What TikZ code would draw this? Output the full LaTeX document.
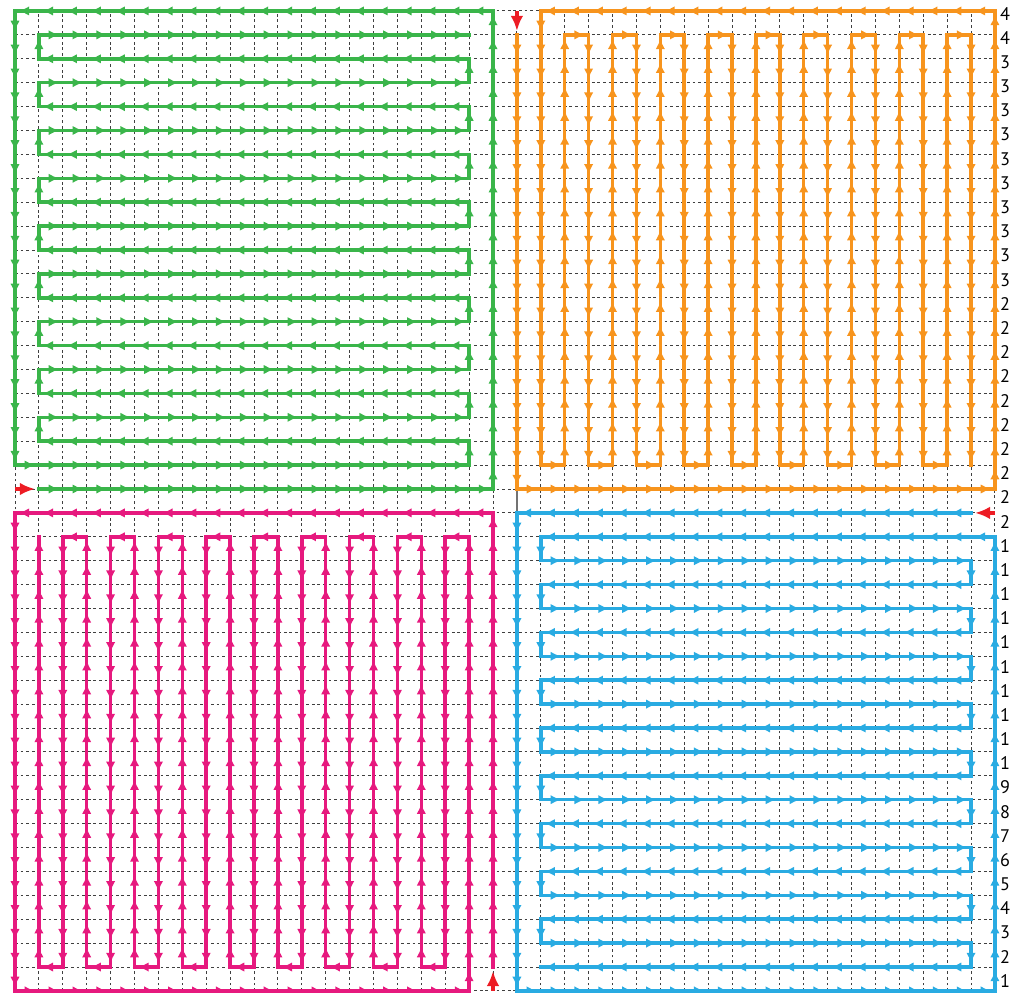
\documentclass[tikz,border=0pt]{standalone}
\usepackage{fontspec}
\setsansfont{PT Sans}
\usetikzlibrary{arrows.meta,decorations.markings}

\definecolor{pathgreen}{HTML}{3AB54A}
\definecolor{pathorange}{HTML}{F7941D}
\definecolor{pathpink}{HTML}{E6197E}
\definecolor{pathblue}{HTML}{29ABE2}
\definecolor{pathred}{HTML}{ED1C24}

% draws a straight run of unit steps from (i1,j1) to (i2,j2)
\newcommand{\trail}[5]{%
  \pgfmathtruncatemacro{\trailn}{abs((#4)-(#2))+abs((#5)-(#3))}%
  \pgfmathtruncatemacro{\traildi}{sign((#4)-(#2))}%
  \pgfmathtruncatemacro{\traildj}{sign((#5)-(#3))}%
  \foreach \k in {1,...,\trailn}{%
    \pgfmathtruncatemacro{\ia}{(#2)+(\k-1)*\traildi}%
    \pgfmathtruncatemacro{\ja}{(#3)+(\k-1)*\traildj}%
    \pgfmathtruncatemacro{\ib}{(#2)+\k*\traildi}%
    \pgfmathtruncatemacro{\jb}{(#3)+\k*\traildj}%
    \draw[#1] (v-\ia-\ja) -- (v-\ib-\jb);
  }%
}

\begin{document}
\begin{tikzpicture}[
    x=0.6cm, y=0.6cm,
    gridline/.style={draw=black!75, line width=0.7pt, dash pattern=on 2pt off 2pt},
    divider/.style={draw=black!55, line width=1.2pt},
    tour/.style={color=#1, line width=2.5pt, line cap=rect,
      postaction={decorate, decoration={markings,
        mark=at position 0.84 with {\arrow{Latex[length=2.6mm,width=2.4mm]}}}}},
    startarrow/.style={color=pathred, line width=2.7pt, shorten >=0.1cm,
      -{Latex[length=3.8mm,width=3.2mm]}},
    rowlabel/.style={anchor=west, inner sep=0pt, font=\sffamily\fontsize{13}{15}\selectfont}
]
    \useasboundingbox (-0.6276,-0.0837) rectangle (41.715,41.460);

    % grid points
    \foreach \i in {0,...,41}
      \foreach \j in {0,...,41}
        \coordinate (v-\i-\j) at (\i,\j);

    % dashed grid
    \foreach \k in {0,...,41}{
      \draw[gridline] (v-\k-0) -- (v-\k-41);
      \draw[gridline] (v-0-\k) -- (v-41-\k);
    }
    \draw[divider] (v-21-20) -- (v-21-21);

    % Green quadrant (top left)
    \draw[startarrow] (v-0-21) -- (v-1-21);
    \trail{tour=pathgreen}{1}{21}{20}{21}
    \trail{tour=pathgreen}{20}{21}{20}{41}
    \trail{tour=pathgreen}{20}{41}{0}{41}
    \trail{tour=pathgreen}{0}{41}{0}{22}
    \trail{tour=pathgreen}{0}{22}{19}{22}
    \foreach \r in {23,25,...,39}{
      \trail{tour=pathgreen}{19}{\r-1}{19}{\r}
      \trail{tour=pathgreen}{19}{\r}{1}{\r}
      \trail{tour=pathgreen}{1}{\r}{1}{\r+1}
      \trail{tour=pathgreen}{1}{\r+1}{19}{\r+1}
    }

    % Orange quadrant (top right)
    \draw[startarrow] (v-21-41) -- (v-21-40);
    \trail{tour=pathorange}{21}{40}{21}{21}
    \trail{tour=pathorange}{21}{21}{41}{21}
    \trail{tour=pathorange}{41}{21}{41}{41}
    \trail{tour=pathorange}{41}{41}{22}{41}
    \trail{tour=pathorange}{22}{41}{22}{22}
    \foreach \c in {23,25,...,39}{
      \trail{tour=pathorange}{\c-1}{22}{\c}{22}
      \trail{tour=pathorange}{\c}{22}{\c}{40}
      \trail{tour=pathorange}{\c}{40}{\c+1}{40}
      \trail{tour=pathorange}{\c+1}{40}{\c+1}{22}
    }

    % Pink quadrant (bottom left)
    \draw[startarrow] (v-20-0) -- (v-20-1);
    \trail{tour=pathpink}{20}{1}{20}{20}
    \trail{tour=pathpink}{20}{20}{0}{20}
    \trail{tour=pathpink}{0}{20}{0}{0}
    \trail{tour=pathpink}{0}{0}{19}{0}
    \trail{tour=pathpink}{19}{0}{19}{19}
    \foreach \c in {18,16,...,2}{
      \trail{tour=pathpink}{\c+1}{19}{\c}{19}
      \trail{tour=pathpink}{\c}{19}{\c}{1}
      \trail{tour=pathpink}{\c}{1}{\c-1}{1}
      \trail{tour=pathpink}{\c-1}{1}{\c-1}{19}
    }

    % Blue quadrant (bottom right)
    \draw[startarrow] (v-41-20) -- (v-40-20);
    \trail{tour=pathblue}{40}{20}{21}{20}
    \trail{tour=pathblue}{21}{20}{21}{0}
    \trail{tour=pathblue}{21}{0}{41}{0}
    \trail{tour=pathblue}{41}{0}{41}{19}
    \trail{tour=pathblue}{41}{19}{22}{19}
    \foreach \r in {18,16,...,2}{
      \trail{tour=pathblue}{22}{\r+1}{22}{\r}
      \trail{tour=pathblue}{22}{\r}{40}{\r}
      \trail{tour=pathblue}{40}{\r}{40}{\r-1}
      \trail{tour=pathblue}{40}{\r-1}{22}{\r-1}
    }

    % row numbers, only the leading digit shows at the right edge
    \foreach \k in {1,...,41}{
      \pgfmathtruncatemacro{\lead}{\k<10 ? \k : floor(\k/10)}
      \node[rowlabel] (row-\k) at (41.21, {0.42+(\k-1)*1.0115}) {\lead};
    }
\end{tikzpicture}
\end{document}
